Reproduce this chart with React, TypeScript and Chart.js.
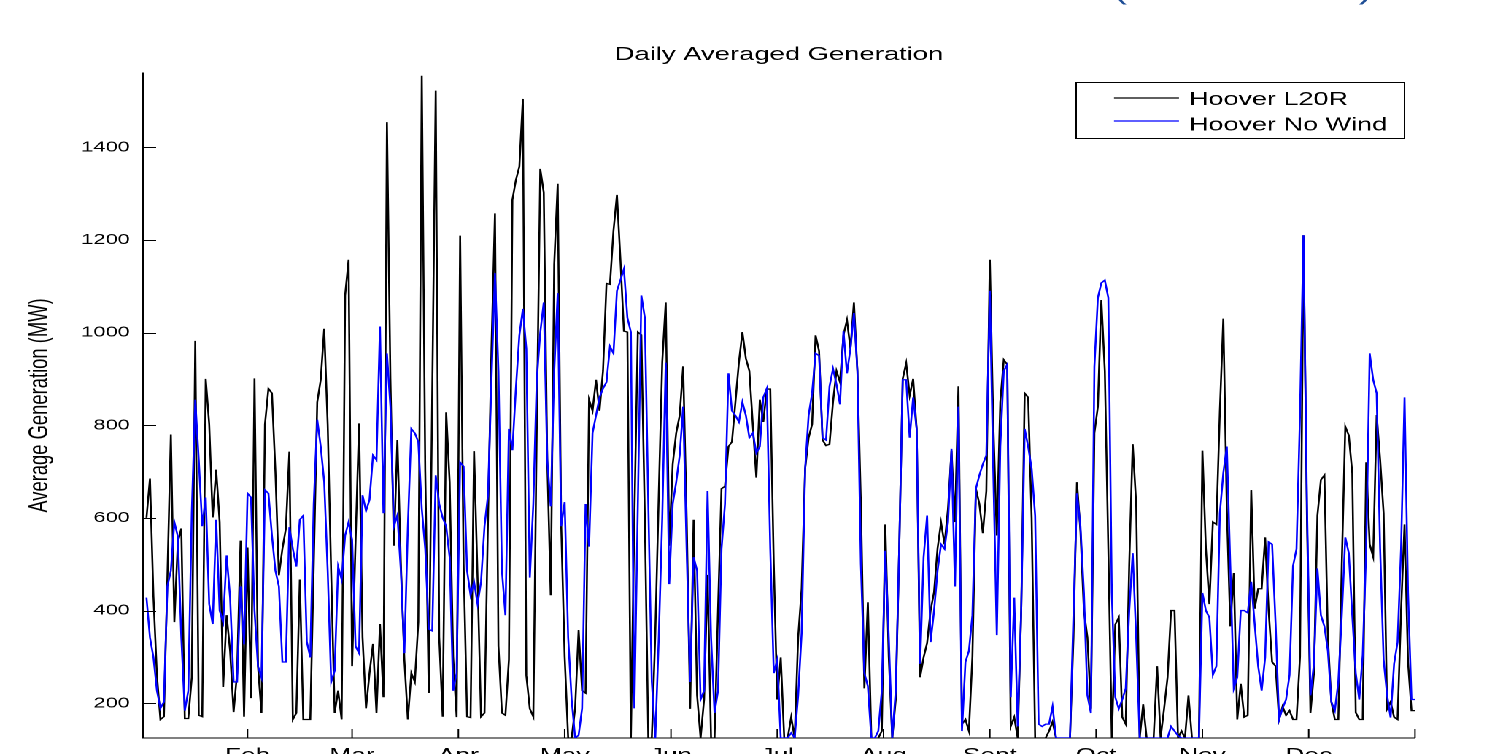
import React, { useEffect, useRef } from "react";
import { Chart, registerables } from "chart.js";

Chart.register(...registerables);

// ---- layout (the reference is a horizontally stretched MATLAB figure) ----
const W0 = 1030;
const H0 = 790;
const SX = 1503 / W0;
const FONT = "'Liberation Sans', Arial, Helvetica, sans-serif";

// ---- data ----
const chartTitle = "Daily Averaged Generation";
const yAxisTitle = "Average Generation (MW)";
const headerText = "(Hoover L20R)";
const seriesNames = ["Hoover L20R", "Hoover No Wind"];

const yTicks = [200, 400, 600, 800, 1000, 1200, 1400];
const yMin = 125;
const yMax = 1560;
const monthTicks = [0, 30, 60, 90.5, 121, 151.5, 182, 212.5, 243, 273.5, 304, 334.5, 365];
const monthLabels = ["", "Feb", "Mar", "Apr", "May", "Jun", "Jul", "Aug", "Sept", "Oct", "Nov", "Dec", ""];

const hooverL20R = [
  600, 685, 430, 260, 165, 171, 470, 780, 375, 548,
  577, 167, 167, 256, 982, 174, 171, 900, 802, 601,
  704, 591, 235, 390, 313, 181, 265, 551, 171, 536,
  211, 901, 280, 179, 802, 879, 869, 700, 476, 533,
  577, 743, 165, 179, 467, 165, 165, 165, 500, 850,
  898, 1008, 802, 480, 179, 227, 165, 1080, 1157, 280,
  550, 804, 342, 189, 265, 328, 179, 371, 213, 1454,
  900, 540, 768, 500, 294, 165, 265, 246, 375, 1554,
  700, 222, 870, 1522, 342, 171, 828, 677, 300, 170,
  1209, 500, 171, 169, 744, 471, 171, 179, 600, 965,
  1257, 323, 179, 174, 294, 1286, 1329, 1358, 1504, 260,
  188, 171, 800, 1353, 1302, 725, 433, 1147, 1321, 586,
  300, 125, 125, 189, 358, 227, 222, 855, 831, 898,
  831, 917, 1106, 1104, 1219, 1297, 1157, 1003, 1001, 125,
  600, 1001, 995, 600, 125, 125, 350, 650, 936, 1065,
  540, 716, 783, 821, 927, 600, 188, 596, 217, 125,
  208, 477, 125, 125, 400, 663, 668, 754, 764, 850,
  936, 1001, 944, 917, 800, 687, 855, 807, 878, 878,
  500, 208, 299, 125, 125, 170, 125, 342, 447, 706,
  773, 802, 994, 960, 768, 756, 759, 850, 917, 893,
  994, 1027, 965, 1065, 917, 630, 232, 418, 125, 125,
  125, 140, 586, 300, 125, 208, 534, 900, 934, 864,
  900, 792, 256, 299, 330, 400, 440, 534, 590, 543,
  620, 745, 591, 884, 155, 165, 140, 300, 663, 630,
  567, 658, 1157, 800, 562, 850, 941, 931, 150, 170,
  125, 400, 869, 860, 600, 125, 125, 125, 125, 140,
  160, 125, 125, 125, 125, 125, 342, 677, 572, 400,
  342, 188, 783, 840, 1070, 917, 533, 125, 370, 385,
  170, 155, 500, 759, 630, 125, 198, 125, 125, 125,
  280, 125, 188, 256, 400, 400, 125, 140, 125, 217,
  125, 125, 125, 745, 533, 414, 591, 586, 830, 1030,
  620, 366, 481, 165, 242, 170, 174, 660, 404, 447,
  447, 558, 400, 289, 280, 165, 193, 174, 184, 165,
  165, 300, 1210, 600, 179, 265, 605, 682, 692, 342,
  203, 165, 165, 500, 797, 778, 697, 180, 165, 165,
  720, 543, 516, 822, 725, 610, 188, 203, 170, 165,
  400, 586, 289, 184, 184,
];

const hooverNoWind = [
  428, 342, 299, 227, 189, 203, 452, 486, 591, 560,
  342, 184, 227, 610, 855, 725, 582, 644, 414, 371,
  596, 400, 375, 519, 428, 246, 246, 452, 327, 653,
  644, 400, 280, 256, 660, 653, 562, 486, 452, 289,
  289, 580, 533, 495, 596, 605, 333, 299, 630, 812,
  754, 678, 486, 246, 270, 495, 467, 562, 591, 553,
  323, 308, 649, 615, 639, 735, 725, 1013, 610, 955,
  840, 582, 606, 486, 308, 580, 792, 783, 764, 620,
  533, 360, 356, 692, 630, 600, 582, 515, 227, 265,
  720, 711, 486, 433, 462, 414, 462, 582, 649, 898,
  1128, 917, 486, 390, 792, 746, 879, 994, 1051, 965,
  471, 630, 900, 1000, 1065, 725, 625, 917, 1085, 582,
  634, 342, 208, 125, 131, 189, 630, 538, 783, 821,
  860, 879, 893, 970, 955, 1090, 1113, 1137, 1032, 1001,
  189, 630, 1080, 1032, 630, 246, 125, 342, 600, 935,
  457, 630, 677, 735, 840, 533, 246, 515, 486, 208,
  227, 658, 342, 179, 227, 533, 630, 912, 831, 821,
  807, 850, 821, 773, 783, 740, 754, 860, 879, 533,
  265, 294, 125, 125, 125, 136, 125, 217, 352, 706,
  821, 869, 955, 950, 773, 768, 884, 922, 888, 845,
  1003, 912, 965, 1042, 917, 500, 265, 237, 125, 125,
  140, 227, 529, 342, 125, 227, 533, 898, 898, 773,
  860, 792, 285, 515, 605, 332, 400, 486, 543, 533,
  591, 749, 452, 840, 140, 289, 313, 390, 663, 692,
  716, 735, 1090, 700, 347, 754, 917, 931, 213, 428,
  150, 400, 792, 754, 706, 605, 155, 150, 155, 155,
  193, 125, 125, 125, 125, 125, 390, 653, 582, 438,
  217, 179, 926, 1075, 1107, 1113, 1075, 438, 213, 188,
  208, 232, 400, 524, 342, 125, 125, 125, 125, 125,
  125, 125, 125, 125, 150, 140, 130, 125, 125, 125,
  125, 125, 125, 438, 400, 385, 261, 280, 610, 697,
  754, 496, 232, 256, 400, 400, 395, 462, 371, 280,
  227, 299, 548, 543, 371, 165, 189, 208, 261, 496,
  533, 821, 1210, 630, 217, 285, 491, 390, 366, 313,
  203, 184, 246, 390, 558, 524, 390, 265, 208, 304,
  533, 955, 898, 869, 533, 294, 217, 169, 285, 332,
  533, 860, 438, 208, 208,
];

const days = hooverL20R.map((_, i) => i + 1);

// ---- plugin: inward ticks, title, axis label, legend, header ----
const decorPlugin = {
  id: "decor",
  afterDatasetsDraw(chart: any) {
    const { ctx, chartArea, scales } = chart;
    const L = 9;
    ctx.save();
    ctx.strokeStyle = "#000";
    ctx.lineWidth = 1;
    yTicks.forEach((v) => {
      const y = Math.round(scales.y.getPixelForValue(v)) + 0.5;
      ctx.beginPath();
      ctx.moveTo(chartArea.left, y);
      ctx.lineTo(chartArea.left + L, y);
      ctx.stroke();
    });
    monthTicks.forEach((v) => {
      const x = scales.x.getPixelForValue(v);
      ctx.beginPath();
      ctx.moveTo(x, chartArea.bottom);
      ctx.lineTo(x, chartArea.bottom - L);
      ctx.stroke();
    });
    ctx.restore();
  },
  afterDraw(chart: any) {
    const { ctx, chartArea } = chart;
    ctx.save();
    // title
    ctx.fillStyle = "#000";
    ctx.font = `18.8px ${FONT}`;
    ctx.textAlign = "center";
    ctx.textBaseline = "alphabetic";
    ctx.fillText(chartTitle, (chartArea.left + chartArea.right) / 2, 60);

    // y axis title
    ctx.save();
    ctx.translate(27.5, (chartArea.top + chartArea.bottom) / 2);
    ctx.rotate(-Math.PI / 2);
    ctx.textAlign = "center";
    ctx.textBaseline = "middle";
    ctx.font = `18.4px ${FONT}`;
    ctx.fillText(yAxisTitle, 0, 0);
    ctx.restore();

    // legend
    const bx = 1076 / SX, bx2 = 1405 / SX, by = 82, by2 = 138;
    ctx.fillStyle = "#fff";
    ctx.fillRect(bx, by, bx2 - bx, by2 - by);
    ctx.strokeStyle = "#000";
    ctx.lineWidth = 1;
    ctx.strokeRect(Math.round(bx) + 0.5, by + 0.5, Math.round(bx2 - bx), by2 - by);
    const lx1 = 1114 / SX, lx2 = 1179 / SX, tx = 1189 / SX;
    const rows = [
      { color: "#000000", ly: 98, ty: 105 },
      { color: "#0000ff", ly: 121, ty: 130.5 },
    ];
    ctx.font = `18.5px ${FONT}`;
    ctx.textAlign = "left";
    ctx.textBaseline = "alphabetic";
    rows.forEach((r, i) => {
      ctx.strokeStyle = r.color;
      ctx.lineWidth = 1.3;
      ctx.beginPath();
      ctx.moveTo(lx1, r.ly);
      ctx.lineTo(lx2, r.ly);
      ctx.stroke();
      ctx.fillStyle = "#000";
      ctx.fillText(seriesNames[i], tx, r.ty);
    });

    // header text (cut off at top of page: only the parentheses' tails show)
    ctx.fillStyle = "#1f4e96";
    ctx.font = `27px ${FONT}`;
    ctx.textAlign = "right";
    ctx.textBaseline = "alphabetic";
    ctx.fillText(headerText, 1372 / SX, -1);
    ctx.restore();
  },
};

export default function App() {
  const ref = useRef<HTMLCanvasElement>(null);

  useEffect(() => {
    document.body.style.margin = "0";
    document.body.style.overflow = "hidden";
    document.documentElement.style.overflow = "hidden";
    const canvas = ref.current;
    if (!canvas) return;

    const plotLeft = 143 / SX;
    const plotRight = 1415 / SX;

    const chart = new Chart(canvas, {
      type: "line",
      data: {
        datasets: [
          {
            label: seriesNames[1],
            data: hooverNoWind.map((v, i) => ({ x: days[i], y: v })),
            borderColor: "#0000ff",
            borderWidth: 1.3,
            pointRadius: 0,
            tension: 0,
            fill: false,
            order: 0,
          },
          {
            label: seriesNames[0],
            data: hooverL20R.map((v, i) => ({ x: days[i], y: v })),
            borderColor: "#000000",
            borderWidth: 1.3,
            pointRadius: 0,
            tension: 0,
            fill: false,
            order: 1,
          },
        ],
      },
      options: {
        animation: false,
        responsive: false,
        devicePixelRatio: 2,
        events: [],
        layout: {
          padding: { left: 0, right: W0 - plotRight, top: 73, bottom: 0 },
        },
        plugins: {
          legend: { display: false },
          title: { display: false },
          tooltip: { enabled: false },
        },
        scales: {
          x: {
            type: "linear",
            min: 0,
            max: 365,
            grid: { display: false, drawTicks: false, tickLength: 0 },
            border: { display: true, color: "#000", width: 1 },
            afterBuildTicks: (scale: any) => {
              scale.ticks = monthTicks.map((v) => ({ value: v }));
            },
            afterFit: (scale: any) => {
              scale.height = H0 - 738;
            },
            ticks: {
              autoSkip: false,
              maxRotation: 0,
              padding: 7,
              color: "#000",
              font: { family: FONT, size: 18 },
              callback: (value: any, index: number) => monthLabels[index] ?? "",
            },
          },
          y: {
            type: "linear",
            min: yMin,
            max: yMax,
            grid: { display: false, drawTicks: false, tickLength: 0 },
            border: { display: true, color: "#000", width: 1 },
            afterBuildTicks: (scale: any) => {
              scale.ticks = yTicks.map((v) => ({ value: v }));
            },
            afterFit: (scale: any) => {
              scale.width = plotLeft;
            },
            ticks: {
              padding: 9,
              color: "#000",
              font: { family: FONT, size: 15 },
              callback: (value: any) => String(value),
            },
          },
        },
      },
      plugins: [decorPlugin],
    });

    return () => chart.destroy();
  }, []);

  return (
    <div
      style={{
        position: "fixed",
        left: 0,
        top: 0,
        width: W0,
        height: H0,
        transform: `scaleX(${SX})`,
        transformOrigin: "0 0",
        background: "#fff",
      }}
    >
      <canvas ref={ref} width={W0} height={H0} style={{ display: "block", width: W0, height: H0 }} />
    </div>
  );
}
